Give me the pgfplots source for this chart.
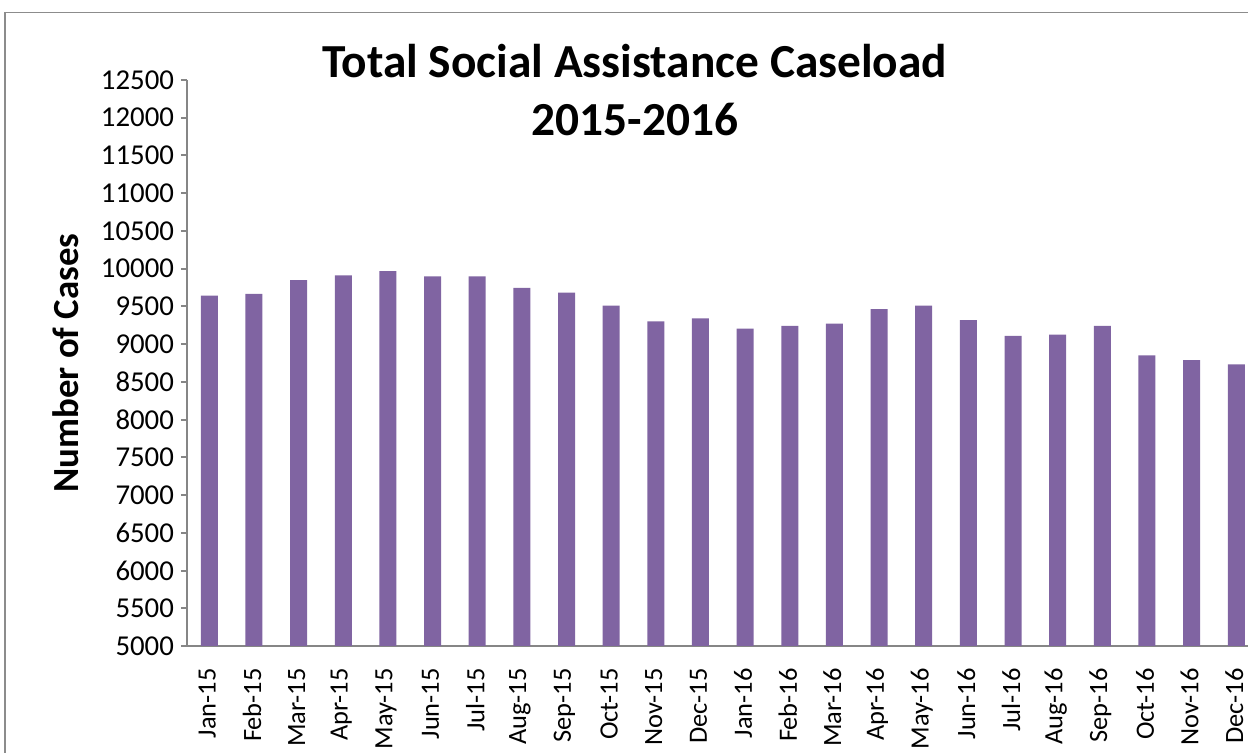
\documentclass[border=0pt]{standalone}
\usepackage{pgfplots}
\pgfplotsset{compat=1.18}
\usepackage{pgfplotstable}
\usepackage{fontspec}
\setmainfont{Carlito}
\definecolor{barpurple}{HTML}{8064A2}
\definecolor{axisgray}{HTML}{868686}
\definecolor{framegray}{HTML}{8C8C8C}

% monthly caseload, Jan-15 .. Dec-16
\pgfplotstableread{
idx value
0  9643
1  9666
2  9848
3  9910
4  9968
5  9897
6  9897
7  9746
8  9683
9  9509
10 9300
11 9340
12 9206
13 9242
14 9273
15 9465
16 9509
17 9318
18 9108
19 9126
20 9242
21 8850
22 8787
23 8733
}\caseload

\begin{document}
\begin{tikzpicture}
\useasboundingbox (-93.5pt,-53.5pt) rectangle (530.5pt,323pt);
\begin{axis}[
    at={(0,0)}, anchor=south west,
    scale only axis,
    width=530.5pt, height=283pt,
    ybar, bar width=8.5pt,
    xmin=-0.5, xmax=23.263,
    ymin=5000, ymax=12500,
    ytick distance=500,
    scaled y ticks=false,
    xtick={0,...,23},
    xticklabels={Jan-15,Feb-15,Mar-15,Apr-15,May-15,Jun-15,Jul-15,Aug-15,Sep-15,Oct-15,Nov-15,Dec-15,
                 Jan-16,Feb-16,Mar-16,Apr-16,May-16,Jun-16,Jul-16,Aug-16,Sep-16,Oct-16,Nov-16,Dec-16},
    axis x line*=bottom, axis y line*=left,
    axis line style={axisgray, line width=1pt},
    x tick style={draw=none},
    y tick style={axisgray, line width=1pt},
    tick align=outside, major tick length=3pt,
    /pgf/number format/assume math mode=true,
    /pgf/number format/1000 sep={},
    y tick label style={font=\fontsize{14.4}{16}\selectfont},
    x tick label style={font=\fontsize{13.2}{15}\selectfont, rotate=90, anchor=east, inner sep=0pt, yshift=1pt},
    xticklabel shift=8pt,
    ylabel={\fontsize{18.4}{22}\selectfont\bfseries Number of Cases},
    every axis y label/.style={at={(axis description cs:-0.114,0.5)}, rotate=90, anchor=center},
    title={Total Social Assistance Caseload\\2015-2016},
    title style={at={(axis description cs:0.422,1)}, yshift=-11pt, anchor=center,
                 align=center, font=\fontsize{23.7}{29}\selectfont\bfseries},
]
\addplot[fill=barpurple, draw=none] table[x=idx, y=value] {\caseload};
\end{axis}
\draw[framegray, line width=0.75pt] (-91pt,-53.5pt) -- (-91pt,316.75pt) -- (530.5pt,316.75pt);
\end{tikzpicture}
\end{document}
